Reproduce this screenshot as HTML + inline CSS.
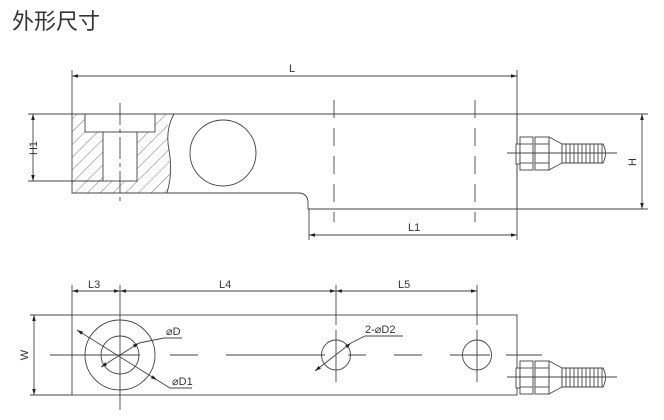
<!DOCTYPE html>
<html><head><meta charset="utf-8"><style>
html,body{margin:0;padding:0;background:#fff;}
svg{display:block;}
text{font-family:"Liberation Sans","Noto Sans CJK SC",sans-serif;fill:#333;}
</style></head><body>
<svg width="664" height="420" viewBox="0 0 664 420" xmlns="http://www.w3.org/2000/svg">
<defs>
<pattern id="h" patternUnits="userSpaceOnUse" width="9" height="9" patternTransform="rotate(45)">
<line x1="0" y1="0" x2="0" y2="9" stroke="#555" stroke-width="0.8"/>
</pattern>
<marker id="a" viewBox="0 0 10 6" refX="10" refY="3" markerWidth="7" markerHeight="4" orient="auto-start-reverse"><path d="M0,0L10,3L0,6z" fill="#222"/></marker>
<g id="con" stroke="#444" stroke-width="0.9" fill="#fff">
<rect x="516" y="-9" width="4" height="20"/>
<rect x="520" y="-16" width="13" height="33"/>
<line x1="520" y1="-9" x2="533" y2="-9"/><line x1="520" y1="10" x2="533" y2="10"/>
<rect x="535" y="-16" width="14" height="33"/>
<line x1="535" y1="-9" x2="549" y2="-9"/><line x1="535" y1="10" x2="549" y2="10"/>
<path d="M549,-16L562,-9L562,10L549,17z"/>
<path d="M562,-9L603,-9Q608,0.5 603,10L562,10z"/>
<path d="M566,-9V10M570,-9V10M574,-9V10M578,-9V10M582,-9V10M586,-9V10M590,-9V10M594,-9V10M598,-9V10M602,-9V10" fill="none"/>
<line x1="507" y1="0" x2="617" y2="0" fill="none"/>
</g>
</defs>
<text x="12" y="29" font-size="22" style="fill:#333">外形尺寸</text>

<g stroke="#444" stroke-width="0.9" fill="none">
<!-- top view -->
<line x1="72" y1="70" x2="72" y2="114"/>
<line x1="517" y1="70" x2="517" y2="240"/>
<line x1="72" y1="76" x2="517" y2="76" marker-start="url(#a)" marker-end="url(#a)"/>
<path d="M170,114 Q165,130 169,150 Q173,172 167,193 L72,193 L72,114 Z" fill="url(#h)" stroke="none"/>
<rect x="85" y="114" width="70" height="18" fill="#fff" stroke="#444"/>
<rect x="103" y="132" width="34" height="49" fill="#fff" stroke="#444"/>
<path d="M72,114 H517 M72,114 V193 H298 Q308,193 308,203 V209 H517 V114"/>
<path d="M174,114 Q165,130 169,150 Q173,172 167,193"/>
<line x1="120" y1="103" x2="120" y2="203" stroke-dasharray="22,4,4,4"/>
<circle cx="223" cy="153" r="33"/>
<line x1="334" y1="100" x2="334" y2="222" stroke-dasharray="18,10"/>
<line x1="475" y1="100" x2="475" y2="222" stroke-dasharray="18,10"/>
<line x1="28" y1="114" x2="72" y2="114"/>
<line x1="28" y1="181" x2="103" y2="181"/>
<line x1="33" y1="114" x2="33" y2="181" marker-start="url(#a)" marker-end="url(#a)"/>
<line x1="517" y1="114" x2="648" y2="114"/>
<line x1="517" y1="209" x2="648" y2="209"/>
<line x1="642" y1="114" x2="642" y2="209" marker-start="url(#a)" marker-end="url(#a)"/>
<line x1="309" y1="209" x2="309" y2="240"/>
<line x1="309" y1="235" x2="517" y2="235" marker-start="url(#a)" marker-end="url(#a)"/>

<!-- bottom view -->
<rect x="72" y="315" width="445" height="80"/>
<line x1="72" y1="285" x2="72" y2="315"/>
<line x1="120" y1="285" x2="120" y2="410"/>
<line x1="336" y1="285" x2="336" y2="325"/>
<line x1="336" y1="330" x2="336" y2="382"/>
<line x1="477" y1="285" x2="477" y2="325"/>
<line x1="477" y1="330" x2="477" y2="382"/>
<line x1="72" y1="291" x2="120" y2="291" marker-start="url(#a)" marker-end="url(#a)"/>
<line x1="120" y1="291" x2="336" y2="291" marker-start="url(#a)" marker-end="url(#a)"/>
<line x1="336" y1="291" x2="477" y2="291" marker-start="url(#a)" marker-end="url(#a)"/>
<line x1="30" y1="315" x2="72" y2="315"/>
<line x1="30" y1="395" x2="72" y2="395"/>
<line x1="34" y1="315" x2="34" y2="395" marker-start="url(#a)" marker-end="url(#a)"/>
<ellipse cx="120" cy="355" rx="35" ry="35"/>
<ellipse cx="120" cy="355" rx="19" ry="19"/>
<ellipse cx="336" cy="355" rx="14.5" ry="15"/>
<ellipse cx="477" cy="355" rx="14.5" ry="15"/>
<path d="M50,355H140 M170,355H198 M226,355H325 M348,355H366 M394,355H422 M450,355H490 M506,355H542"/>
<line x1="77" y1="330" x2="157" y2="380" marker-start="url(#a)" marker-end="url(#a)"/>
<line x1="101" y1="367" x2="139" y2="343" marker-start="url(#a)" marker-end="url(#a)"/>
<path d="M139,343 L164,338 H182"/>
<path d="M157,380 L170,388 H192"/>
<line x1="315" y1="371" x2="351" y2="343" marker-start="url(#a)" marker-end="url(#a)"/>
<path d="M351,343 L365,336 H403"/>
</g>
<use href="#con" transform="translate(0,153)"/>
<use href="#con" transform="translate(0,377)"/>

<g font-size="11">
<text x="289" y="72">L</text>
<text x="408" y="231">L1</text>
<text x="28" y="157" transform="rotate(-90 28 148)" text-anchor="middle">H1</text>
<text x="636" y="162" transform="rotate(-90 636 162)" text-anchor="middle">H</text>
<text x="88" y="288">L3</text>
<text x="219" y="288">L4</text>
<text x="398" y="288">L5</text>
<text x="28" y="355" transform="rotate(-90 28 355)" text-anchor="middle">W</text>
<text x="166" y="335">⌀D</text>
<text x="172" y="385">⌀D1</text>
<text x="365" y="333">2-⌀D2</text>
</g>
</svg>
</body></html>
